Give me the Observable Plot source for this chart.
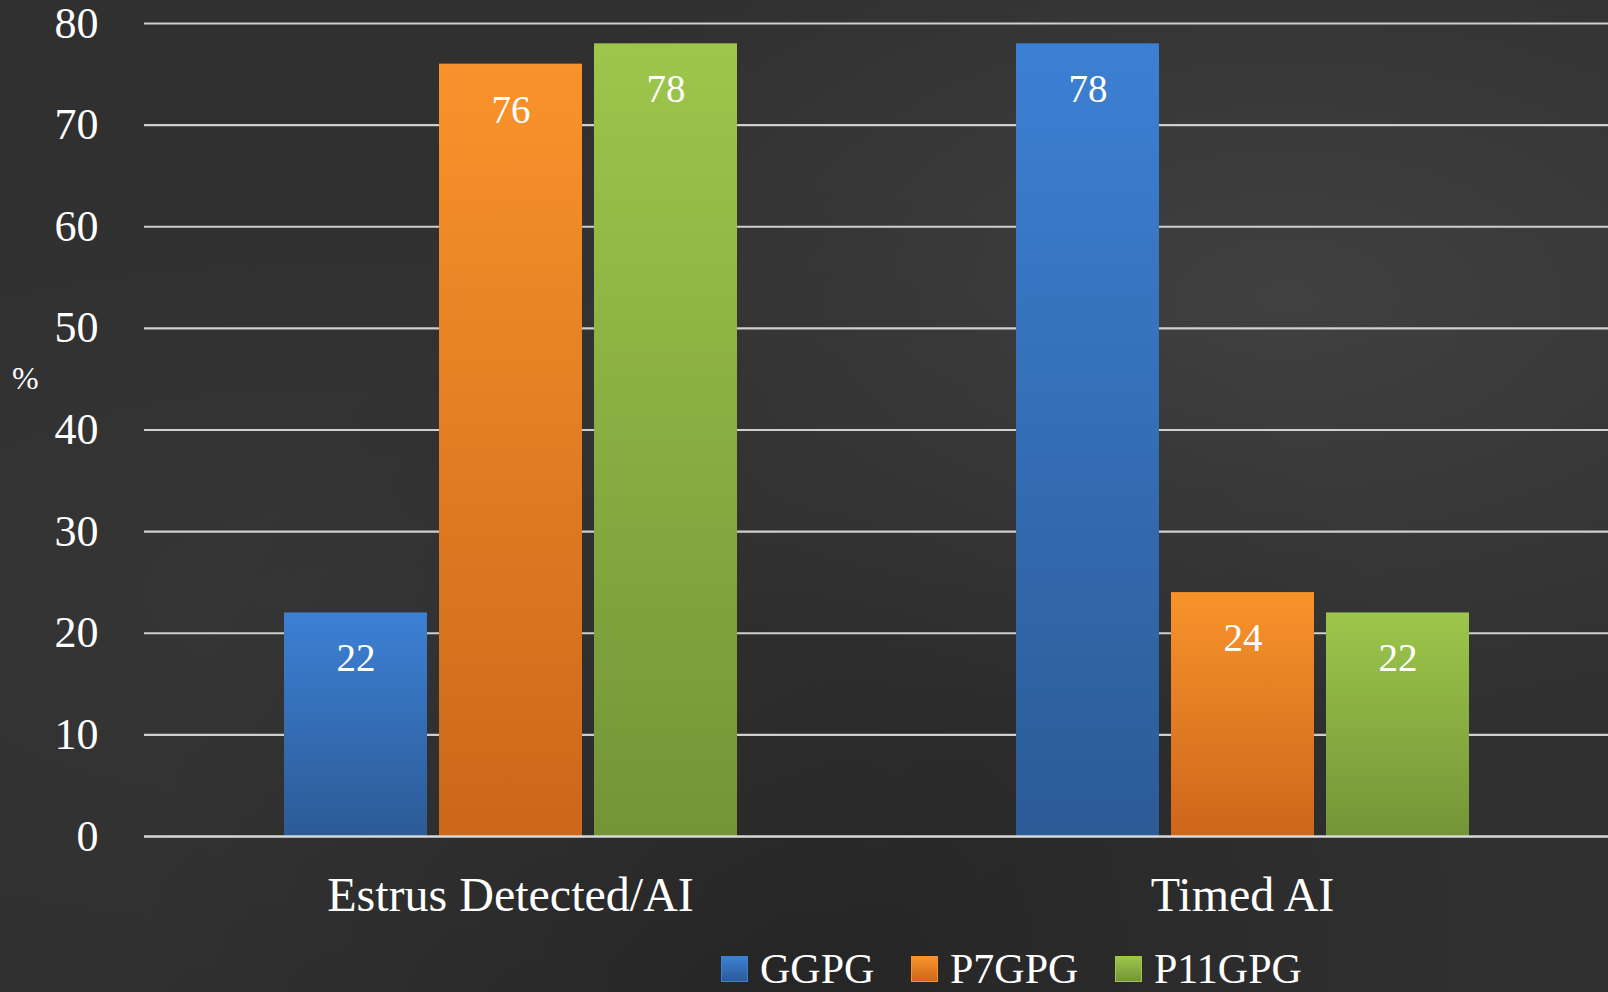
<!DOCTYPE html>
<html>
<head>
<meta charset="utf-8">
<script src="https://cdn.jsdelivr.net/npm/d3@7"></script>
<script src="https://cdn.jsdelivr.net/npm/@observablehq/plot@0.6"></script>
<style>
  html, body { margin: 0; padding: 0; }
  body {
    width: 1608px; height: 992px; overflow: hidden; position: relative;
    background-color: #303030;
    background-image:
      radial-gradient(ellipse at 80% 30%, rgba(95,95,95,0.35), rgba(0,0,0,0) 45%),
      radial-gradient(ellipse at 20% 60%, rgba(70,70,70,0.25), rgba(0,0,0,0) 50%),
      radial-gradient(ellipse at 50% 100%, rgba(0,0,0,0.22), rgba(0,0,0,0) 60%);
    font-family: "Liberation Serif", "DejaVu Serif", serif;
    color: white;
  }
  #chart { position: absolute; left: 0; top: 0; }
  #chart svg [aria-label^="y-axis"], #chart svg [aria-label^="y-axis"] text { font-size: 44px; }
  #chart svg [aria-label^="fx-axis"], #chart svg [aria-label^="fx-axis"] text { font-size: 48px; }
  #ylabel { position: absolute; left: 12px; top: 360px; font-size: 32px; font-family: "Liberation Serif", serif; }
  #legend { position: absolute; left: 721px; top: 948px; display: flex; height: 42px; }
  .item { display: flex; align-items: center; font-size: 42px; line-height: 42px; flex-shrink: 0; }
  .sw { width: 27px; height: 26px; margin-right: 12px; box-sizing: border-box; flex-shrink: 0; }
</style>
</head>
<body>
<div id="chart"></div>
<div id="ylabel">%</div>
<div id="legend"></div>
<script>
// ---- data ----
const groups = ["Estrus Detected/AI", "Timed AI"];
const series = ["GGPG", "P7GPG", "P11GPG"];
const estrusValues = [22, 76, 78];
const timedValues = [78, 24, 22];
const yTicks = [0, 10, 20, 30, 40, 50, 60, 70, 80];
const seriesTop = ["#3c80d4", "#f8932b", "#9dc64b"];
const seriesBottom = ["#2c5b96", "#cc671b", "#749437"];

const rows = [];
series.forEach((s, i) => rows.push({group: groups[0], series: s, value: estrusValues[i]}));
series.forEach((s, i) => rows.push({group: groups[1], series: s, value: timedValues[i]}));

const gradIds = series.map((s, i) => `grad${i}`);

const svg = Plot.plot({
  width: 1608,
  height: 930,
  marginTop: 23,
  marginBottom: 94,
  marginLeft: 144,
  marginRight: 0,
  style: {
    background: "transparent",
    color: "white",
    fontFamily: "'Liberation Serif', 'DejaVu Serif', serif",
    fontSize: "38px",
    overflow: "visible"
  },
  facet: {data: rows, x: "group"},
  fx: {domain: groups, padding: 0, axis: "bottom", label: null, tickSize: 0, tickPadding: 40},
  x: {domain: series, type: "band", paddingInner: 0.08, paddingOuter: 0.897, axis: null},
  y: {domain: [0, 80], ticks: yTicks, tickSize: 0, tickPadding: 46, label: null, grid: false},
  color: {domain: series, range: gradIds.map(id => `url(#${id})`)},
  marks: [
    Plot.ruleY(yTicks.filter(t => t > 0), {stroke: "#cfcfcf", strokeWidth: 2.2}),
    Plot.barY(rows, {x: "series", y: "value", fill: "series"}),
    Plot.ruleY([0], {stroke: "#d8d8d8", strokeWidth: 2.4}),
    Plot.text(rows, {x: "series", y: "value", text: d => String(d.value), dy: 46, fill: "white",
      fontSize: 39, fontFamily: "'Liberation Serif', 'DejaVu Serif', serif"})
  ]
});

// gradient definitions for bar fills
const defs = d3.select(svg).insert("defs", ":first-child");
series.forEach((s, i) => {
  const g = defs.append("linearGradient").attr("id", gradIds[i])
    .attr("x1", 0).attr("y1", 0).attr("x2", 0).attr("y2", 1);
  g.append("stop").attr("offset", "0%").attr("stop-color", seriesTop[i]);
  g.append("stop").attr("offset", "100%").attr("stop-color", seriesBottom[i]);
});

document.getElementById("chart").appendChild(svg);

// legend
const legend = d3.select("#legend");
const itemWidths = [190, 204, 200];
series.forEach((s, i) => {
  const it = legend.append("div").attr("class", "item").style("width", itemWidths[i] + "px");
  it.append("div").attr("class", "sw")
    .style("background", `linear-gradient(${seriesTop[i]}, ${seriesBottom[i]})`)
    .style("border", `1px solid ${seriesTop[i]}`);
  it.append("span").text(s);
});
</script>
</body>
</html>
